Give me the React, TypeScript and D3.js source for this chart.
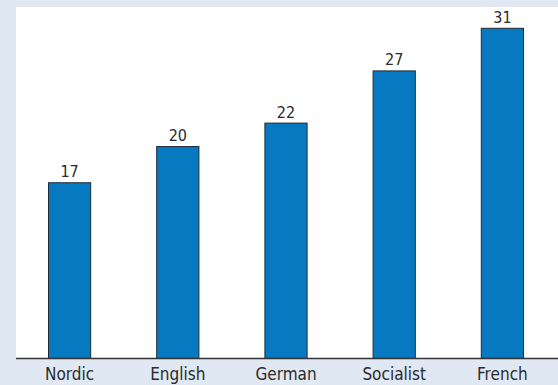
import React from "react";
import * as d3 from "d3";

const categories = ["Nordic", "English", "German", "Socialist", "French"];
const values = [16.5, 19.9, 22.1, 27.0, 31.0];
const valueLabels = ["17", "20", "22", "27", "31"];

const W = 558;
const H = 385;

export default function App() {
  const plotLeft = 16;
  const plotTop = 7;
  const baseY = 358.5;

  const x = d3
    .scaleBand<string>()
    .domain(categories)
    .range([15.5, 556.5])
    .paddingInner(0.61)
    .paddingOuter(0.305);

  const y = d3.scaleLinear().domain([0, 31]).range([baseY, 28.3]);

  const font = "'Liberation Sans Narrow', 'DejaVu Sans Condensed', 'Liberation Sans', Arial, sans-serif";

  return (
    <svg
      width={W}
      height={H}
      style={{ position: "absolute", left: 0, top: 0, display: "block" }}
    >
      <rect x={0} y={0} width={W} height={H} fill="#e0e8f4" />
      <rect x={plotLeft} y={plotTop} width={W - plotLeft} height={baseY - plotTop} fill="#ffffff" />
      {categories.map((c, i) => {
        const bx = x(c)!;
        const bw = x.bandwidth();
        const top = y(values[i]);
        return (
          <g key={c}>
            <rect
              x={bx}
              y={top}
              width={bw}
              height={baseY - top}
              fill="#0679c1"
              stroke="#1f2a36"
              strokeWidth={1}
            />
            <text
              x={bx + bw / 2}
              y={top - 5.5}
              textAnchor="middle"
              fontFamily={font}
              fontSize={16}
              fill="#2b2b2b"
            >
              {valueLabels[i]}
            </text>
            <text
              x={bx + bw / 2}
              y={380}
              textAnchor="middle"
              fontFamily={font}
              fontSize={17}
              fill="#2b2b2b"
            >
              {c}
            </text>
          </g>
        );
      })}
      <line x1={plotLeft} x2={W} y1={baseY} y2={baseY} stroke="#333333" strokeWidth={1.5} />
    </svg>
  );
}
